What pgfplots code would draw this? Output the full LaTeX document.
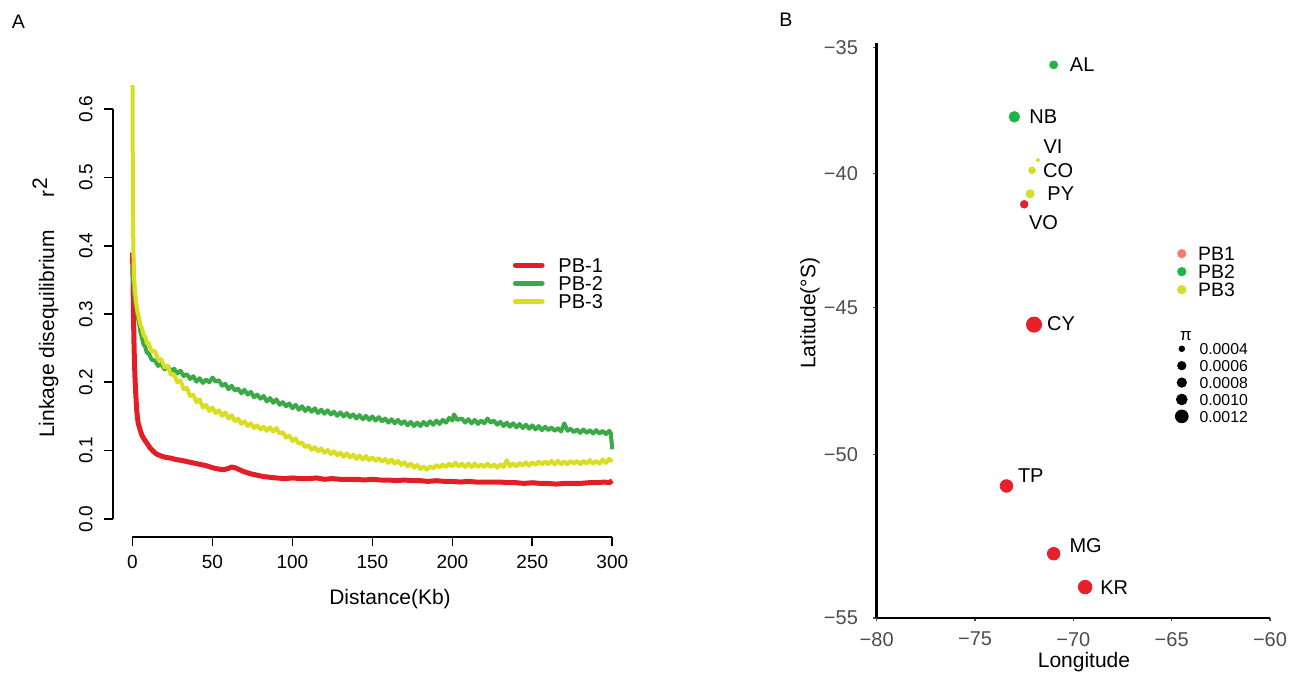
\documentclass[border=0pt]{standalone}
\usepackage{fontspec}
\setmainfont{Liberation Sans}
\usepackage{pgfplots}
\usepackage{pgfplotstable}
\pgfplotsset{compat=1.18}

\newcommand{\fs}[1]{\fontsize{#1}{#1}\selectfont}

% left panel line colours
\definecolor{lred}{HTML}{E41E26}
\definecolor{lgreen}{HTML}{3AAA47}
\definecolor{lyellow}{HTML}{D9DE21}
% right panel point colours
\definecolor{pred}{HTML}{E8202A}
\definecolor{pgreen}{HTML}{1EB44B}
\definecolor{pyellow}{HTML}{D6DC2A}
% legend keys
\definecolor{kone}{HTML}{F47B70}
\definecolor{ktwo}{HTML}{1DB54A}
\definecolor{kthree}{HTML}{D7DB2B}
\definecolor{ticktext}{HTML}{4D4D4D}

% LD decay, r^2 against distance (Kb)
\pgfplotstableread{
x y
0 0.390
0.3 0.360
0.6 0.300
1 0.250
1.5 0.210
2 0.185
2.7 0.157
3.5 0.141
4.8 0.130
6 0.122
7.5 0.116
9 0.111
11 0.104
13 0.099
15 0.095
18 0.092
21 0.090
24 0.089
27 0.087
30 0.086
34 0.084
38 0.082
42 0.080
46 0.078
50 0.075
54 0.073
57 0.072
60 0.074
62 0.076
64 0.075
67 0.072
70 0.069
74 0.066
78 0.064
82 0.062
86 0.061
90 0.060
95 0.059
100 0.060
105 0.059
110 0.059
115 0.060
120 0.058
125 0.059
130 0.058
135 0.058
140 0.058
145 0.057
150 0.058
155 0.057
160 0.057
165 0.056
170 0.057
175 0.056
180 0.056
185 0.055
190 0.056
195 0.055
200 0.055
205 0.054
210 0.055
215 0.054
220 0.054
225 0.054
230 0.054
235 0.053
240 0.053
245 0.052
250 0.053
255 0.052
260 0.052
265 0.051
270 0.052
275 0.052
280 0.052
285 0.053
290 0.053
295 0.054
298 0.053
300 0.056
}\pbone

\pgfplotstableread{
x y
0 0.370
0.5 0.345
1 0.332
2 0.314
3 0.300
4 0.287
5 0.273
6 0.264
7 0.255
8 0.252
9 0.243
10 0.243
12 0.233
14 0.232
16 0.224
18 0.227
20 0.219
22 0.224
24 0.216
26 0.220
28 0.213
30 0.217
32 0.209
34 0.212
36 0.205
38 0.209
40 0.201
42 0.206
44 0.199
46 0.204
48 0.200
50 0.207
52 0.201
54 0.203
56 0.195
58 0.198
60 0.190
62 0.195
64 0.188
66 0.191
68 0.184
70 0.189
72 0.182
74 0.186
76 0.178
78 0.182
80 0.176
82 0.180
84 0.172
86 0.177
88 0.170
90 0.175
92 0.167
94 0.171
96 0.165
98 0.169
100 0.162
102 0.167
104 0.160
106 0.165
108 0.158
110 0.163
112 0.157
114 0.162
116 0.155
118 0.160
120 0.154
122 0.159
124 0.153
126 0.157
128 0.151
130 0.156
132 0.150
134 0.155
136 0.149
138 0.153
140 0.147
142 0.152
144 0.146
146 0.151
148 0.145
150 0.150
152 0.144
154 0.149
156 0.143
158 0.147
160 0.141
162 0.146
164 0.140
166 0.145
168 0.139
170 0.143
172 0.137
174 0.142
176 0.136
178 0.141
180 0.136
182 0.142
184 0.137
186 0.143
188 0.138
190 0.144
192 0.139
194 0.145
196 0.141
198 0.148
200 0.144
201 0.153
203 0.145
206 0.147
208 0.141
210 0.146
212 0.140
214 0.145
216 0.139
218 0.144
220 0.140
222 0.147
224 0.141
226 0.144
228 0.138
230 0.142
232 0.136
234 0.141
236 0.135
238 0.140
240 0.134
242 0.139
244 0.133
246 0.138
248 0.132
250 0.137
252 0.131
254 0.136
256 0.130
258 0.135
260 0.130
262 0.134
264 0.129
266 0.133
268 0.128
270 0.140
272 0.129
274 0.132
276 0.127
278 0.131
280 0.126
282 0.131
284 0.126
286 0.130
288 0.125
290 0.130
292 0.125
294 0.129
296 0.124
298 0.129
299 0.126
300 0.102
}\pbtwo

\pgfplotstableread{
x y
0 0.635
0.3 0.450
0.6 0.385
1 0.352
2 0.323
3 0.305
4 0.296
5 0.284
6 0.279
7 0.268
8 0.267
9 0.257
10 0.258
12 0.245
14 0.246
16 0.233
18 0.234
20 0.222
22 0.224
24 0.211
26 0.212
28 0.200
30 0.203
32 0.190
34 0.192
36 0.180
38 0.182
40 0.171
42 0.175
44 0.163
46 0.167
48 0.158
50 0.163
52 0.155
54 0.159
56 0.151
58 0.156
60 0.147
62 0.152
64 0.143
66 0.147
68 0.139
70 0.143
72 0.136
74 0.140
76 0.133
78 0.137
80 0.131
82 0.135
84 0.129
86 0.134
88 0.128
90 0.133
92 0.125
94 0.127
96 0.119
98 0.122
100 0.114
102 0.118
104 0.110
106 0.112
108 0.105
110 0.108
112 0.101
114 0.105
116 0.099
118 0.103
120 0.097
122 0.101
124 0.095
126 0.099
128 0.093
130 0.097
132 0.091
134 0.096
136 0.090
138 0.094
140 0.088
142 0.093
144 0.087
146 0.092
148 0.086
150 0.090
152 0.085
154 0.089
156 0.084
158 0.088
160 0.082
162 0.087
164 0.081
166 0.085
168 0.079
170 0.083
172 0.077
174 0.081
176 0.075
178 0.079
180 0.073
182 0.077
184 0.072
186 0.077
188 0.074
190 0.079
192 0.075
194 0.080
196 0.076
198 0.081
200 0.077
202 0.082
204 0.077
206 0.081
208 0.076
210 0.081
212 0.076
214 0.081
216 0.076
218 0.080
220 0.076
222 0.081
224 0.076
226 0.080
228 0.075
230 0.080
232 0.076
234 0.086
236 0.077
238 0.081
240 0.077
242 0.082
244 0.078
246 0.083
248 0.078
250 0.083
252 0.079
254 0.084
256 0.080
258 0.084
260 0.080
262 0.085
264 0.080
266 0.085
268 0.080
270 0.084
272 0.080
274 0.085
276 0.081
278 0.085
280 0.080
282 0.085
284 0.081
286 0.086
288 0.081
290 0.085
292 0.081
294 0.087
296 0.082
298 0.088
300 0.084
}\pbthree

% sampling sites: longitude, latitude, point radius (bp), label offset (bp)
\pgfplotstableread{
label lon lat r dx dy
VO -72.5 -41.2 1.9 9.65 -9
CY -72.0 -45.6 3.8 13.5 0.5
TP -73.4 -51.0 3.15 12.15 5.35
MG -71.0 -53.1 3.15 16 4.15
KR -69.4 -54.1 3.4 14.5 -0.35
}\siteone
\pgfplotstableread{
label lon lat r dx dy
AL -71.0 -35.7 2.0 14.25 0
NB -73.0 -37.8 2.65 14.5 0
}\sitetwo
\pgfplotstableread{
label lon lat r dx dy
VI -71.8 -39.5 0.85 7.5 6.5
CO -72.1 -39.9 1.7 13 -0.35
PY -72.2 -40.8 2.05 15.35 0
}\sitethree

\pgfplotsset{
  site/.style={scatter, only marks, mark=*, forget plot,
    scatter/use mapped color={draw=#1, fill=#1},
    visualization depends on={\thisrow{r} \as \msz},
    scatter/@pre marker code/.append style={/tikz/mark size=\msz*1bp}},
  sitelabel/.style={only marks, mark=none, forget plot,
    point meta=explicit symbolic, nodes near coords,
    visualization depends on={\thisrow{dx} \as \ndx},
    visualization depends on={\thisrow{dy} \as \ndy},
    nodes near coords style={anchor=center, xshift=\ndx*1bp, yshift=\ndy*1bp,
      text=black, font=\fs{10bp}, inner sep=0pt}},
}

\begin{document}
\begin{tikzpicture}
\useasboundingbox (0,0) rectangle (655bp,336.5bp);
\node[font=\fs{9.8bp}] at (9.15bp,325.4bp) {A};
\node[font=\fs{9.8bp}] at (393bp,326.5bp) {B};

% ---- A: LD decay ----
\begin{axis}[
  at={(56.65bp,68.15bp)}, anchor=south west,
  scale only axis, width=259.1bp, height=234.3bp,
  xmin=-12, xmax=312, ymin=-0.026, ymax=0.66,
  clip=false,
  axis line style={draw=none},
  xtick={0,50,100,150,200,250,300},
  xticklabels={0,50,100,150,200,250,300},
  ytick={0,0.1,0.2,0.3,0.4,0.5,0.6},
  yticklabels={},
  xtick pos=left, ytick pos=left,
  tick align=outside, major tick length=4.5bp,
  every tick/.style={black, line width=0.85bp},
  tick label style={font=\fs{9.5bp}, inner sep=0pt},
  xticklabel style={anchor=north},
  xticklabel shift=4.4bp,
  xlabel={Distance(Kb)},
  ylabel={Linkage disequilibrium\hspace{16.5bp}r\raisebox{0.33em}{2}},
  xlabel style={at={(axis description cs:0.534,-0.133)}, anchor=center, font=\fs{10.5bp}},
  ylabel style={at={(axis description cs:-0.131,0.488)}, anchor=center, font=\fs{10.5bp}},
  legend cell align=left,
  legend style={draw=none, fill=none, inner sep=0pt, row sep=0pt, column sep=6.9bp,
    at={(axis description cs:0.7704,0.5991)}, anchor=north west, font=\fs{10bp},
    nodes={inner xsep=0pt, inner ysep=0.9bp, text height=7.2bp, text depth=0pt}},
  legend image code/.code={\draw[#1, line width=2.5bp, line cap=round] (0bp,0bp) -- (13.35bp,0bp);},
]
\addplot[lred, line width=2.5bp, line join=round] table {\pbone};
\addlegendentry{PB-1}
\addplot[lgreen, line width=2bp, line join=round] table {\pbtwo};
\addlegendentry{PB-2}
\addplot[lyellow, line width=2bp, line join=round] table {\pbthree};
\addlegendentry{PB-3}
\draw[line width=0.85bp] ({axis cs:0,0}|-{rel axis cs:0,0}) -- ({axis cs:300,0}|-{rel axis cs:0,0});
\draw[line width=0.85bp] ({rel axis cs:0,0}|-{axis cs:0,0}) -- ({rel axis cs:0,0}|-{axis cs:0,0.6});
% y tick labels, set along the axis as in R
\pgfplotsinvokeforeach{0.0,0.1,0.2,0.3,0.4,0.5,0.6}{
  \node[rotate=90, anchor=south, inner sep=0pt, font=\fs{9.5bp}]
    at ({rel axis cs:-0.0392,0}|-{axis cs:0,#1}) {#1};
}
\end{axis}

% ---- B: sampling map (Mercator latitude) ----
\begin{axis}[
  at={(438.35bp,27.5bp)}, anchor=south west,
  scale only axis, width=196.65bp, height=287.5bp,
  xmin=-80, xmax=-60, ymin=-55, ymax=-34.8,
  y coord trafo/.code={\pgfmathparse{57.29578*ln(tan(45+0.5*(#1)))}},
  clip=false,
  axis x line*=bottom, axis y line*=left,
  axis line style={line width=1.3bp, black},
  xtick={-80,-75,-70,-65,-60},
  xticklabels={−80,−75,−70,−65,−60},
  ytick={-55,-50,-45,-40,-35},
  yticklabels={−55,−50,−45,−40,−35},
  tick align=outside, major tick length=1.7bp,
  every tick/.style={ticktext, line width=0.6bp},
  tick label style={font=\fs{10bp}, text=ticktext, inner sep=0pt},
  xticklabel shift=5.15bp, yticklabel shift=7.5bp,
  xlabel={Longitude}, ylabel={Latitude(°S)},
  xlabel style={at={(axis description cs:0.527,-0.0765)}, anchor=center, font=\fs{10.5bp}},
  ylabel style={at={(axis description cs:-0.170,0.53)}, anchor=center, font=\fs{10.5bp}},
  legend cell align=left,
  legend style={draw=none, fill=none, inner sep=0pt, row sep=0pt, column sep=5.9bp,
    at={(axis description cs:0.763,0.650)}, anchor=north west, font=\fs{9.7bp},
    nodes={inner xsep=0pt, inner ysep=1.03bp, text height=6.95bp, text depth=0pt}},
]
\addplot[site=pred] table[x=lon, y=lat] {\siteone};
\addplot[site=pgreen] table[x=lon, y=lat] {\sitetwo};
\addplot[site=pyellow] table[x=lon, y=lat] {\sitethree};
\addplot[sitelabel] table[x=lon, y=lat, meta=label] {\siteone};
\addplot[sitelabel] table[x=lon, y=lat, meta=label] {\sitetwo};
\addplot[sitelabel] table[x=lon, y=lat, meta=label] {\sitethree};
\addlegendimage{legend image code/.code={\fill[kone] (0bp,0bp) circle[radius=2.1bp];}}
\addlegendentry{PB1}
\addlegendimage{legend image code/.code={\fill[ktwo] (0bp,0bp) circle[radius=2.1bp];}}
\addlegendentry{PB2}
\addlegendimage{legend image code/.code={\fill[kthree] (0bp,0bp) circle[radius=2.1bp];}}
\addlegendentry{PB3}
\end{axis}

% ---- B: size key for nucleotide diversity ----
\begin{axis}[
  at={(438.35bp,27.5bp)}, anchor=south west,
  scale only axis, width=196.65bp, height=287.5bp,
  hide axis, xmin=0, xmax=1, ymin=0, ymax=1,
  legend cell align=left,
  legend style={draw=none, fill=none, inner sep=0pt, row sep=0pt, column sep=3.8bp,
    at={(axis description cs:0.7574,0.497)}, anchor=north west, font=\fs{7.9bp},
    nodes={inner xsep=0pt, inner ysep=1.375bp, text height=5.7bp, text depth=0pt}},
]
\addlegendimage{legend image code/.code={\node[inner sep=0pt, text height=3.85bp, text depth=0pt, font=\fs{8.5bp}] at (-1bp,0bp) {π};}}
\addlegendentry[text height=0pt, inner ysep=0pt]{}
\addlegendimage{legend image code/.code={\fill (0bp,0bp) circle[radius=1.4bp];}}
\addlegendentry{0.0004}
\addlegendimage{legend image code/.code={\fill (0bp,0bp) circle[radius=2.1bp];}}
\addlegendentry{0.0006}
\addlegendimage{legend image code/.code={\fill (0bp,0bp) circle[radius=2.35bp];}}
\addlegendentry{0.0008}
\addlegendimage{legend image code/.code={\fill (0bp,0bp) circle[radius=2.7bp];}}
\addlegendentry{0.0010}
\addlegendimage{legend image code/.code={\fill (0bp,0bp) circle[radius=3.2bp];}}
\addlegendentry{0.0012}
\end{axis}
\end{tikzpicture}
\end{document}
